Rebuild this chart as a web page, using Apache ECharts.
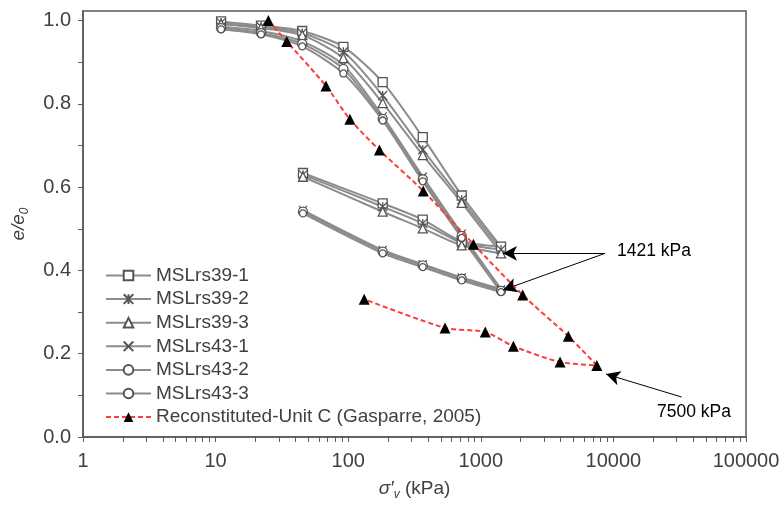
<!DOCTYPE html>
<html>
<head>
<meta charset="utf-8">
<script src="https://cdn.jsdelivr.net/npm/echarts@6/dist/echarts.min.js"></script>
<style>html,body{margin:0;padding:0;background:#fff}#c{width:783px;height:506px}</style>
</head>
<body>
<div id="c"></div>
<script>
// ---- data ----
const loadStress = [11, 22, 45, 92, 182, 365, 718, 1421];
const unloadStress = [718, 365, 182, 45.6];

const names = ['MSLrs39-1', 'MSLrs39-2', 'MSLrs39-3', 'MSLrs43-1', 'MSLrs43-2', 'MSLrs43-3'];

const load39_1 = [0.998, 0.988, 0.975, 0.937, 0.852, 0.720, 0.580, 0.457];
const unload39_1 = [0.470, 0.522, 0.561, 0.634];
const load39_2 = [0.995, 0.985, 0.970, 0.925, 0.820, 0.690, 0.570, 0.450];
const unload39_2 = [0.466, 0.513, 0.553, 0.630];
const load39_3 = [0.992, 0.982, 0.965, 0.910, 0.802, 0.677, 0.562, 0.441];
const unload39_3 = [0.460, 0.501, 0.541, 0.625];
const load43_1 = [0.985, 0.975, 0.950, 0.893, 0.770, 0.625, 0.488, 0.355];
const unload43_1 = [0.383, 0.415, 0.449, 0.545];
const load43_2 = [0.982, 0.970, 0.944, 0.884, 0.764, 0.619, 0.483, 0.351];
const unload43_2 = [0.380, 0.412, 0.445, 0.541];
const load43_3 = [0.979, 0.967, 0.938, 0.873, 0.760, 0.614, 0.478, 0.348];
const unload43_3 = [0.376, 0.408, 0.441, 0.537];

const gasName = 'Reconstituted-Unit C (Gasparre, 2005)';
const gasStress = [25, 34.4, 68, 103, 172, 368, 880, 2070, 4570, 7500, 3960, 1760, 1080, 537, 132];
const gasE = [1.0, 0.950, 0.843, 0.763, 0.689, 0.591, 0.463, 0.341, 0.242, 0.172, 0.180, 0.218, 0.252, 0.262, 0.331];

const xLabelValues = [1, 10, 100, 1000, 10000, 100000];
const yLabelValues = [0, 0.2, 0.4, 0.6, 0.8, 1.0];
const yTickValues = [0, 0.1, 0.2, 0.3, 0.4, 0.5, 0.6, 0.7, 0.8, 0.9, 1.0];

// ---- build ----
const loads = [load39_1, load39_2, load39_3, load43_1, load43_2, load43_3];
const unloads = [unload39_1, unload39_2, unload39_3, unload43_1, unload43_2, unload43_3];

const xTickValues = [];
for (let d = 1; d < 100000; d *= 10) for (let k = 1; k < 10; k++) xTickValues.push(k * d);
xTickValues.push(100000);

const symbols = [
  'rect',
  'path://M0,0L10,10M10,0L0,10M5,0L5,10',
  'triangle',
  'path://M0,0L10,10M10,0L0,10',
  'circle',
  'circle'
];
const symSizes = [9, 9, 9, 8, 9, 7];

const series = names.map((n, i) => {
  const data = loadStress.map((x, j) => [x, loads[i][j]])
    .concat(unloadStress.map((x, j) => [x, unloads[i][j]]));
  return {
    name: n,
    type: 'line',
    data: data,
    smooth: 0.25,
    symbol: symbols[i],
    symbolSize: symSizes[i],
    showAllSymbol: true,
    lineStyle: { color: '#8c8c8c', width: 2 },
    itemStyle: { color: '#ffffff', borderColor: '#555555', borderWidth: 1.3 },
    emphasis: { disabled: true },
    z: 2
  };
});

series.push({
  name: gasName,
  type: 'line',
  data: gasStress.map((x, j) => [x, gasE[j]]),
  smooth: 0.25,
  symbol: 'triangle',
  symbolSize: 11,
  lineStyle: { color: '#ff3b3b', width: 2, type: [5, 3] },
  itemStyle: { color: '#000000', borderColor: '#000000', borderWidth: 0 },
  emphasis: { disabled: true },
  z: 4,
  markLine: {
    silent: true,
    symbol: ['none', 'arrow'],
    symbolSize: [11, 14],
    label: { show: false },
    lineStyle: { color: '#000000', width: 1, type: 'solid' },
    data: [
      [{ coord: [8650, 0.441] }, { coord: [1470, 0.441] }],
      [{ coord: [8650, 0.441] }, { coord: [1470, 0.353] }],
      [{ coord: [32700, 0.096] }, { coord: [8800, 0.151] }]
    ]
  }
});

const chart = echarts.init(document.getElementById('c'), null, { renderer: 'canvas' });
chart.setOption({
  animation: false,
  backgroundColor: '#ffffff',
  textStyle: { fontFamily: 'Liberation Sans, Arial, sans-serif' },
  grid: { left: 83, right: 37, top: 11, bottom: 69, show: true, borderColor: '#595959', borderWidth: 1.5, backgroundColor: 'transparent' },
  legend: {
    left: 100, top: 261, orient: 'vertical',
    itemWidth: 45, itemHeight: 12, itemGap: 4.6,
    textStyle: { fontSize: 19, color: '#404040', padding: [0, 0, 0, 0] },
    data: names.concat([gasName]),
    selectedMode: false
  },
  xAxis: {
    type: 'log', logBase: 10, min: 1, max: 100000,
    name: '{i|σ′}{s|v}{n| (kPa)}', nameLocation: 'middle', nameGap: 40,
    nameTextStyle: {
      rich: {
        i: { fontSize: 19, fontStyle: 'italic', color: '#404040', fontFamily: 'Liberation Sans' },
        s: { fontSize: 12, fontStyle: 'italic', color: '#404040', padding: [12, 0, 0, 0], fontFamily: 'Liberation Sans' },
        n: { fontSize: 19, color: '#404040', fontFamily: 'Liberation Sans' }
      }
    },
    axisLine: { show: true, lineStyle: { color: '#595959', width: 1.5 } },
    axisTick: { show: true, inside: false, length: 5, customValues: xTickValues, lineStyle: { color: '#595959' } },
    axisLabel: { customValues: xLabelValues, fontSize: 20, color: '#404040', margin: 14, formatter: v => String(Math.round(v)) },
    splitLine: { show: false },
    minorTick: { show: false }
  },
  yAxis: {
    type: 'value', min: 0, max: 1.023,
    name: '{i|e/e}{s|0}', nameLocation: 'middle', nameGap: 52, nameRotate: 90,
    nameTextStyle: {
      rich: {
        i: { fontSize: 19, fontStyle: 'italic', color: '#404040', fontFamily: 'Liberation Sans' },
        s: { fontSize: 12, fontStyle: 'italic', color: '#404040', padding: [12, 0, 0, 0], fontFamily: 'Liberation Sans' }
      }
    },
    axisLine: { show: true, lineStyle: { color: '#595959', width: 1.5 } },
    axisTick: { show: true, inside: false, length: 5, customValues: yTickValues, lineStyle: { color: '#595959' } },
    axisLabel: { customValues: yLabelValues, fontSize: 20, color: '#404040', margin: 12, formatter: v => v.toFixed(1) },
    splitLine: { show: false }
  },
  graphic: [
    { type: 'text', left: 617, top: 242, style: { text: '1421 kPa', fontSize: 17.5, fill: '#000', fontFamily: 'Liberation Sans' } },
    { type: 'text', left: 657, top: 403, style: { text: '7500 kPa', fontSize: 17.5, fill: '#000', fontFamily: 'Liberation Sans' } }
  ],
  series: series
});
</script>
</body>
</html>
